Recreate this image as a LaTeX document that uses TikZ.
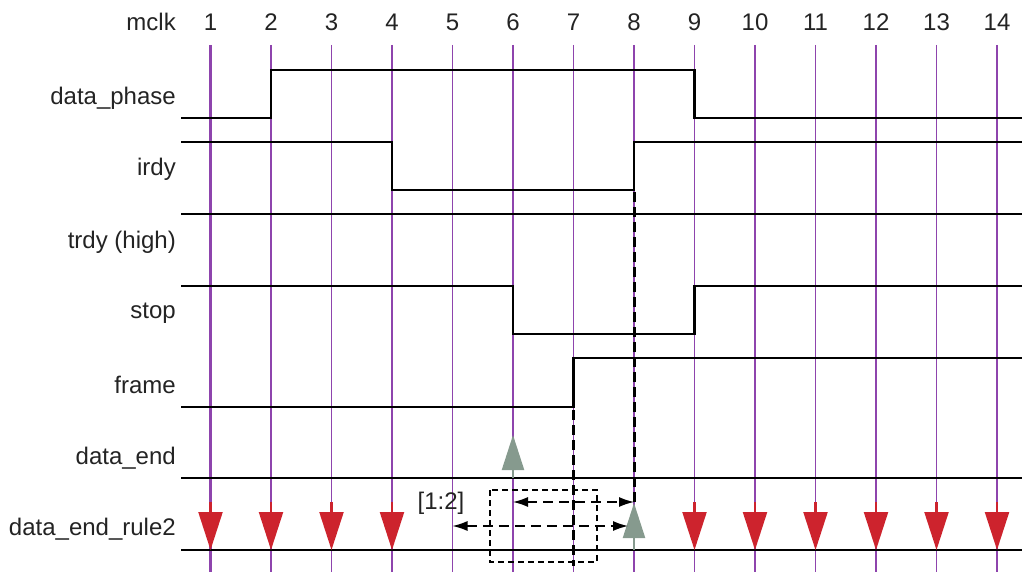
\documentclass[tikz,border=0pt]{standalone}
\usepackage{fontspec}
\setmainfont{Liberation Sans}
\usetikzlibrary{arrows.meta}
\usetikzlibrary{positioning}

\definecolor{clkline}{RGB}{142,68,173}
\definecolor{rulered}{RGB}{205,35,45}
\definecolor{hitgray}{RGB}{134,154,142}
\definecolor{txtgray}{RGB}{35,35,35}

\begin{document}
\begin{tikzpicture}[x=1pt,y=-1pt,
      font=\fontsize{24}{28}\selectfont,
      sig/.style={line width=2.8pt,black},
      clk/.style={line width=1.3pt,clkline},
      lbl/.style={anchor=east,inner sep=0pt,text=txtgray},
      num/.style={inner sep=0pt,text=txtgray},
      rulearr/.style={rulered,line width=2.2pt,-{Triangle[length=38pt,width=24pt]}},
      hitarr/.style={hitgray,line width=2.2pt,-{Triangle[length=35pt,width=22pt]}},
      mark line/.style={line width=3pt,black,dash pattern=on 10pt off 5pt},
      span/.style={line width=1.4pt,dash pattern=on 10pt off 6pt,
        {Latex[length=15pt,width=10pt]}-{Latex[length=15pt,width=10pt]}},
      ]
      \useasboundingbox (0,0) rectangle (1022,572);
      % clock positions
      \foreach \i in {1,...,14}
        \coordinate (c\i) at ({210.5+(\i-1)*60.5},0);

      % clock lines and numbers
      \node[lbl] (mclk) at (176,22) {mclk};
      \foreach \i in {1,...,14} {
        \node[num] (n\i) at (c\i |- 0,22) {\i};
        \draw[clk] (c\i |- 0,45) -- (c\i |- 0,572);
      }
      \draw[clk,line width=2.6pt] (c1 |- 0,45) -- (c1 |- 0,572);

      % signal names
      \node[lbl] (phase) at (176,98) {data\_phase};
      \node[lbl] (irdy) at (176,169) {irdy};
      \node[lbl] (trdy) at (176,242) {trdy (high)};
      \node[lbl] (stop) at (176,313) {stop};
      \node[lbl] (frame) at (176,385) {frame};
      \node[lbl] (dend) at (176,458) {data\_end};
      \node[lbl] (rule2) at (176,529) {data\_end\_rule2};

      % waveforms
      \draw[sig] (181,118) -- (c2 |- 0,118) -- (c2 |- 0,70) -- (c9 |- 0,70)
        -- (c9 |- 0,118) -- (1022,118);
      \draw[sig] (181,142) -- (c4 |- 0,142) -- (c4 |- 0,190) -- (c8 |- 0,190)
        -- (c8 |- 0,142) -- (1022,142);
      \draw[sig] (181,214) -- (1022,214);
      \draw[sig] (181,286) -- (c6 |- 0,286) -- (c6 |- 0,334) -- (c9 |- 0,334)
        -- (c9 |- 0,286) -- (1022,286);
      \draw[sig] (181,407) -- (c7 |- 0,407) -- (c7 |- 0,358) -- (1022,358);
      \draw[sig] (181,478) -- (1022,478);
      \draw[sig] (181,550) -- (1022,550);

      % rule checks
      \foreach \i in {1,2,3,4,9,10,11,12,13,14}
        \draw[rulearr] (c\i |- 0,502) -- (c\i |- 0,550);

      \coordinate (hit1) at (c6 |- 0,478);
      \coordinate (hit2) at (c8 |- 0,550);
      \draw[hitarr] (hit1) -- ++(0,-43);
      \draw[hitarr] (hit2) -- ++(0,-47);

      % window
      \draw[mark line] (c7 |- 0,410) -- (c7 |- 0,566);
      \draw[mark line] (c8 |- 0,192) -- (c8 |- 0,503);
      \draw[line width=1.1pt,dash pattern=on 6pt off 4pt] (490,490) rectangle (597,562);
      \coordinate (w1) at (c6 |- 0,502);
      \coordinate (w2) at (c8 |- 0,502);
      \coordinate (w3) at (c5 |- 0,526);
      \coordinate (w4) at (628,526);
      \draw[span] (w1) -- (w2);
      \draw[span] (w3) -- (w4);
      \node[num] (range) at (441,503) {[1:2]};
    \end{tikzpicture}
\end{document}
